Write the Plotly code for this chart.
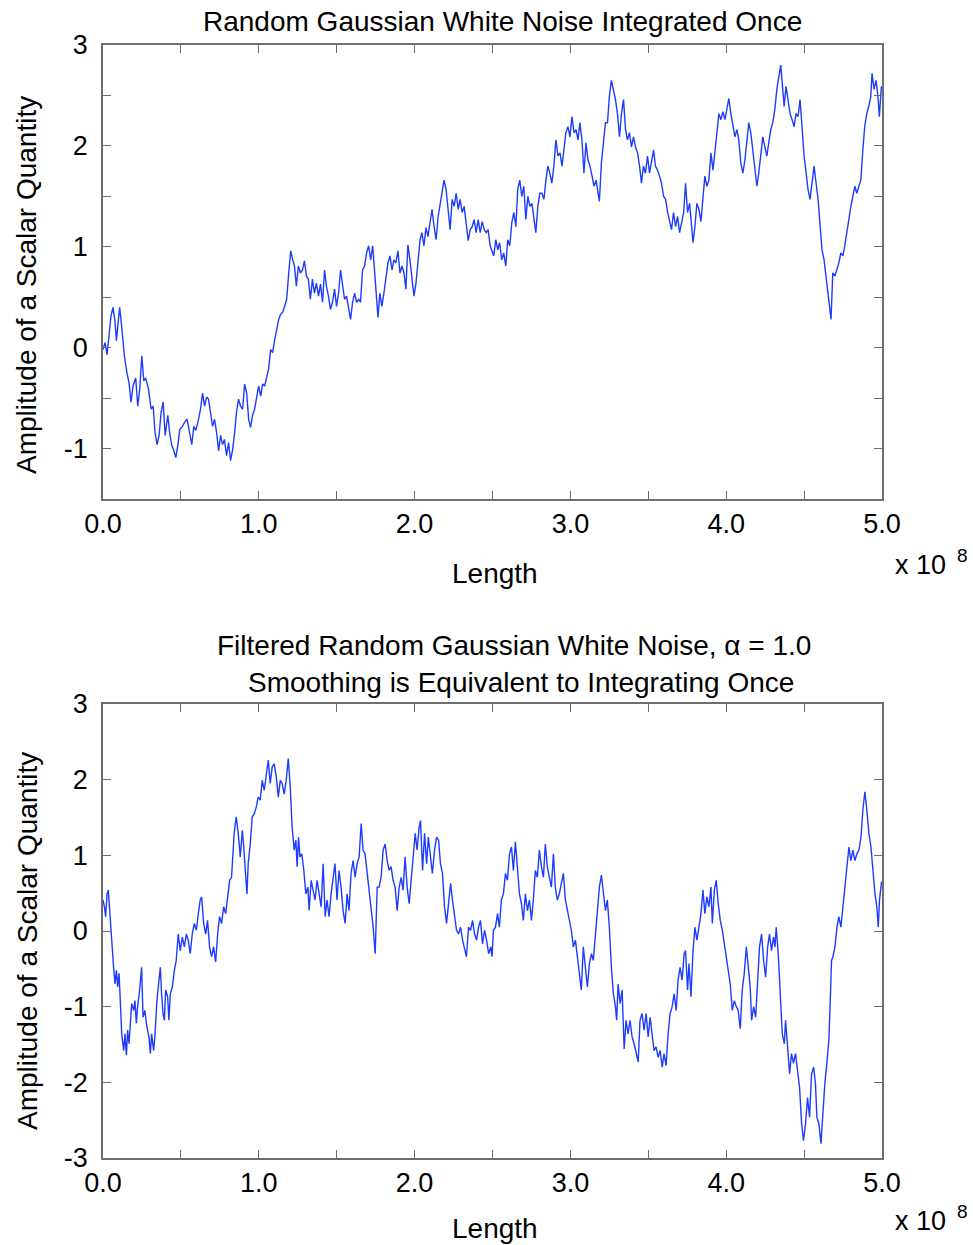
import plotly.graph_objects as go

# ---------------- data (x in units of 1e8) ----------------
top_x = [
    0.000, 0.013, 0.026, 0.039, 0.051, 0.064, 0.077, 0.086, 0.094, 0.107, 0.120, 0.137, 0.154, 0.167, 0.180, 0.193,
    0.210, 0.223, 0.236, 0.249, 0.262, 0.274, 0.292, 0.309, 0.322, 0.334, 0.347, 0.360, 0.373, 0.386, 0.399, 0.416,
    0.429, 0.442, 0.454, 0.467, 0.480, 0.493, 0.510, 0.523, 0.540, 0.553, 0.570, 0.583, 0.596, 0.613, 0.626, 0.639,
    0.652, 0.665, 0.677, 0.690, 0.703, 0.716, 0.729, 0.742, 0.755, 0.767, 0.780, 0.793, 0.806, 0.819, 0.832, 0.845,
    0.857, 0.870, 0.883, 0.896, 0.909, 0.922, 0.935, 0.947, 0.960, 0.973, 0.986, 0.999, 1.012, 1.025, 1.038, 1.050,
    1.063, 1.076, 1.089, 1.102, 1.115, 1.128, 1.140, 1.153, 1.166, 1.179, 1.192, 1.205, 1.218,
    1.229, 1.241, 1.254, 1.267, 1.280, 1.293, 1.306, 1.318, 1.331, 1.344, 1.357, 1.370, 1.383, 1.396, 1.409, 1.422,
    1.434, 1.447, 1.460, 1.473, 1.486, 1.499, 1.512, 1.525, 1.537, 1.550, 1.563, 1.576, 1.589, 1.602, 1.615, 1.628,
    1.641, 1.653, 1.666, 1.679, 1.692, 1.705, 1.718, 1.731, 1.744, 1.756, 1.765, 1.777, 1.790, 1.803, 1.816, 1.829,
    1.842, 1.855, 1.867, 1.880, 1.893, 1.906, 1.919, 1.932, 1.944, 1.957, 1.970, 1.983, 1.996, 2.009, 2.022, 2.035,
    2.047, 2.060, 2.073, 2.086, 2.099, 2.112, 2.125, 2.138, 2.151, 2.163, 2.176, 2.189, 2.202, 2.215, 2.228, 2.241,
    2.254, 2.267, 2.280, 2.292, 2.305, 2.318, 2.331, 2.344, 2.357, 2.370, 2.382, 2.395, 2.408, 2.421, 2.434, 2.447,
    2.460, 2.472, 2.485,
    2.495, 2.508, 2.521, 2.534, 2.546, 2.559, 2.572, 2.585, 2.598, 2.611, 2.624, 2.637, 2.650, 2.662, 2.675, 2.688,
    2.701, 2.714, 2.727, 2.740, 2.753, 2.765, 2.778, 2.791, 2.804, 2.817, 2.830, 2.843, 2.855, 2.868, 2.881, 2.894,
    2.907, 2.920, 2.933, 2.946, 2.958, 2.971, 2.984, 2.997, 3.010, 3.023, 3.036, 3.049, 3.061, 3.074, 3.087, 3.100,
    3.113, 3.126, 3.139, 3.152, 3.165, 3.178, 3.186, 3.199, 3.212, 3.225, 3.238, 3.250, 3.263, 3.276, 3.289, 3.302,
    3.315, 3.328, 3.341, 3.354, 3.366, 3.379, 3.392, 3.405, 3.418, 3.431, 3.444, 3.456, 3.469, 3.482, 3.495, 3.508,
    3.521, 3.534, 3.546, 3.559, 3.572, 3.585, 3.598, 3.611, 3.624, 3.637, 3.649, 3.662, 3.675, 3.688, 3.701, 3.714,
    3.727,
    3.739, 3.752, 3.765, 3.778, 3.787, 3.799, 3.812, 3.825, 3.838, 3.850, 3.863, 3.876, 3.889, 3.902, 3.915, 3.927,
    3.940, 3.953, 3.966, 3.979, 3.992, 4.004, 4.017, 4.030, 4.043, 4.056, 4.069, 4.081, 4.094, 4.107, 4.120, 4.133,
    4.145, 4.158, 4.171, 4.184, 4.197, 4.209, 4.222, 4.235, 4.248, 4.261, 4.273, 4.286, 4.299, 4.312, 4.325, 4.337,
    4.350, 4.363, 4.372, 4.384, 4.397, 4.410, 4.423, 4.436, 4.448, 4.461, 4.474, 4.487, 4.500, 4.513, 4.525, 4.538,
    4.551, 4.564, 4.577, 4.590, 4.603, 4.615, 4.628, 4.641, 4.654, 4.667, 4.673, 4.684, 4.697, 4.710, 4.723, 4.736,
    4.749, 4.761, 4.774, 4.787, 4.800, 4.813, 4.826, 4.838, 4.851, 4.864, 4.877, 4.889, 4.902, 4.915, 4.928, 4.936,
    4.949, 4.962, 4.974, 4.983, 4.996,
]
top_y = [
    -0.02, 0.05, -0.07, 0.15, 0.31, 0.40, 0.26, 0.07, 0.21, 0.40, 0.21, -0.08, -0.25, -0.35, -0.54, -0.38,
    -0.30, -0.58, -0.41, -0.08, -0.33, -0.30, -0.41, -0.61, -0.58, -0.84, -0.96, -0.87, -0.64, -0.54, -0.87, -0.67,
    -0.86, -0.97, -1.02, -1.09, -0.97, -0.81, -0.78, -0.74, -0.71, -0.81, -0.96, -0.78, -0.82, -0.71, -0.61, -0.45,
    -0.58, -0.49, -0.51, -0.64, -0.78, -0.71, -0.84, -1.02, -0.87, -0.96, -0.91, -1.07, -0.94, -1.12, -1.01, -0.84,
    -0.64, -0.51, -0.58, -0.61, -0.36, -0.45, -0.71, -0.79, -0.67, -0.61, -0.51, -0.38, -0.48, -0.36, -0.38, -0.28,
    -0.21, -0.02, -0.05, 0.08, 0.18, 0.28, 0.33, 0.35, 0.41, 0.48, 0.74, 0.96, 0.87,
    0.81, 0.61, 0.81, 0.74, 0.77, 0.86, 0.71, 0.68, 0.48, 0.68, 0.54, 0.64, 0.51, 0.63, 0.45, 0.77,
    0.61, 0.51, 0.38, 0.45, 0.58, 0.41, 0.54, 0.77, 0.61, 0.48, 0.51, 0.41, 0.28, 0.45, 0.54, 0.45,
    0.48, 0.45, 0.77, 0.81, 0.94, 1.01, 0.87, 1.01, 0.77, 0.51, 0.30, 0.54, 0.41, 0.54, 0.71, 0.84,
    0.91, 0.77, 0.87, 0.84, 0.96, 0.74, 0.81, 0.74, 0.58, 1.02, 0.87, 0.68, 0.51, 0.64, 0.87, 1.07,
    1.14, 1.01, 1.19, 1.10, 1.24, 1.37, 1.20, 1.07, 1.30, 1.43, 1.53, 1.66, 1.57, 1.34, 1.17, 1.47,
    1.40, 1.53, 1.37, 1.47, 1.34, 1.40, 1.20, 1.06, 1.17, 1.20, 1.27, 1.14, 1.27, 1.14, 1.25, 1.17,
    1.14, 1.17, 1.01,
    0.97, 0.91, 1.07, 0.97, 1.04, 0.87, 0.94, 0.81, 1.07, 1.01, 1.24, 1.34, 1.20, 1.57, 1.66, 1.50,
    1.60, 1.27, 1.50, 1.40, 1.43, 1.30, 1.14, 1.40, 1.53, 1.53, 1.47, 1.66, 1.80, 1.73, 1.63, 1.80,
    2.06, 1.90, 1.93, 1.80, 1.99, 2.13, 2.19, 2.09, 2.29, 2.13, 2.16, 2.06, 2.23, 2.06, 1.73, 2.03,
    1.86, 1.80, 1.70, 1.60, 1.66, 1.53, 1.45, 1.83, 2.06, 2.23, 2.23, 2.49, 2.65, 2.56, 2.46, 2.32,
    2.09, 2.32, 2.46, 2.16, 2.06, 2.13, 1.99, 2.09, 1.99, 1.93, 1.80, 1.63, 1.80, 1.73, 1.90, 1.73,
    1.86, 1.96, 1.80, 1.76, 1.70, 1.63, 1.50, 1.47, 1.34, 1.24, 1.17, 1.34, 1.20, 1.30, 1.14, 1.24,
    1.34,
    1.63, 1.34, 1.43, 1.14, 1.04, 1.20, 1.43, 1.37, 1.25, 1.47, 1.70, 1.60, 1.66, 1.93, 1.76, 1.93,
    2.16, 2.32, 2.26, 2.34, 2.26, 2.36, 2.47, 2.32, 2.19, 2.09, 2.16, 2.06, 1.83, 1.73, 1.86, 2.09,
    2.23, 2.13, 1.96, 1.83, 1.60, 1.73, 1.90, 2.09, 1.99, 1.90, 2.03, 2.16, 2.23, 2.36, 2.56, 2.69,
    2.80, 2.56, 2.39, 2.59, 2.46, 2.32, 2.26, 2.19, 2.32, 2.29, 2.46, 2.13, 1.90, 1.73, 1.57, 1.47,
    1.63, 1.80, 1.63, 1.47, 1.20, 0.97, 0.87, 0.68, 0.54, 0.35, 0.28, 0.74, 0.71, 0.77, 0.84, 0.94,
    0.91, 1.01, 1.17, 1.27, 1.40, 1.50, 1.60, 1.53, 1.60, 1.66, 1.96, 2.19, 2.32, 2.39, 2.49, 2.72,
    2.56, 2.65, 2.49, 2.29, 2.59,
]

bot_x = [
    0.000, 0.009, 0.017, 0.026, 0.034, 0.043, 0.051, 0.060, 0.068, 0.077, 0.086, 0.094, 0.103, 0.111, 0.120, 0.133,
    0.141, 0.150, 0.158, 0.167, 0.175, 0.184, 0.197, 0.205, 0.214, 0.222, 0.235, 0.248, 0.257, 0.269, 0.282, 0.295,
    0.304, 0.312, 0.325, 0.334, 0.346, 0.359, 0.368, 0.376, 0.385, 0.394, 0.402, 0.415, 0.423, 0.432, 0.445, 0.458,
    0.470, 0.483, 0.496, 0.509, 0.522, 0.535, 0.547, 0.560, 0.573, 0.586, 0.599, 0.612, 0.624, 0.633, 0.646, 0.659,
    0.671, 0.684, 0.697, 0.710, 0.723, 0.736, 0.748, 0.761, 0.774, 0.787, 0.800, 0.813, 0.825, 0.834, 0.842, 0.855,
    0.868, 0.881, 0.894, 0.902, 0.915, 0.924, 0.932, 0.945, 0.958, 0.971, 0.984, 0.996, 1.009, 1.022, 1.035, 1.048,
    1.061, 1.073, 1.086, 1.099, 1.112, 1.125, 1.138, 1.150, 1.163, 1.176, 1.189, 1.202, 1.214, 1.227,
    1.238, 1.246, 1.255, 1.264, 1.276, 1.289, 1.302, 1.315, 1.323, 1.336, 1.349, 1.361, 1.374, 1.387, 1.400, 1.413,
    1.426, 1.438, 1.451, 1.464, 1.477, 1.489, 1.502, 1.515, 1.528, 1.541, 1.554, 1.567, 1.579, 1.592, 1.605, 1.618,
    1.631, 1.644, 1.657, 1.669, 1.682, 1.695, 1.708, 1.721, 1.734, 1.747, 1.760, 1.772, 1.785, 1.798, 1.811, 1.824,
    1.836, 1.849, 1.862, 1.875, 1.888, 1.901, 1.914, 1.926, 1.939, 1.952, 1.965, 1.978, 1.991, 2.004, 2.016, 2.029,
    2.038, 2.051, 2.064, 2.077, 2.088, 2.101, 2.114, 2.128, 2.141, 2.154, 2.166, 2.179, 2.192, 2.205, 2.218, 2.231,
    2.243, 2.256, 2.269, 2.282, 2.295, 2.308, 2.320, 2.333, 2.346, 2.359, 2.372, 2.385, 2.398, 2.410, 2.423, 2.436,
    2.449, 2.462, 2.475,
    2.489, 2.497, 2.506, 2.519, 2.532, 2.544, 2.557, 2.570, 2.583, 2.596, 2.609, 2.622, 2.634, 2.647, 2.660, 2.673,
    2.686, 2.698, 2.711, 2.724, 2.737, 2.750, 2.762, 2.775, 2.788, 2.801, 2.814, 2.827, 2.839, 2.852, 2.865, 2.878,
    2.891, 2.903, 2.916, 2.929, 2.942, 2.955, 2.968, 2.981, 2.993, 3.006, 3.019, 3.032, 3.045, 3.058, 3.070, 3.083,
    3.096, 3.109, 3.122, 3.135, 3.147, 3.160, 3.173, 3.186, 3.199, 3.212, 3.225, 3.237, 3.250, 3.263, 3.276, 3.289,
    3.297, 3.306, 3.319, 3.332, 3.345, 3.357, 3.370, 3.383, 3.396, 3.409, 3.422, 3.435, 3.447, 3.460, 3.473, 3.486,
    3.499, 3.512, 3.524, 3.537, 3.550, 3.563, 3.576, 3.589, 3.601, 3.614, 3.627, 3.640, 3.653, 3.666, 3.679, 3.691,
    3.704, 3.717, 3.730,
    3.739, 3.752, 3.761, 3.774, 3.786, 3.799, 3.812, 3.825, 3.838, 3.851, 3.863, 3.876, 3.889, 3.902, 3.911, 3.924,
    3.936, 3.949, 3.962, 3.975, 3.988, 4.001, 4.014, 4.026, 4.039, 4.052, 4.065, 4.077, 4.090, 4.103, 4.116, 4.129,
    4.142, 4.154, 4.163, 4.176, 4.189, 4.201, 4.214, 4.227, 4.240, 4.253, 4.266, 4.278, 4.291, 4.304, 4.313, 4.321,
    4.334, 4.347, 4.360, 4.373, 4.381, 4.394, 4.407, 4.419, 4.432, 4.445, 4.458, 4.471, 4.484, 4.496, 4.509, 4.522,
    4.535, 4.548, 4.561, 4.573, 4.582, 4.595, 4.608, 4.620, 4.633, 4.646, 4.659, 4.668, 4.676, 4.685, 4.698, 4.711,
    4.723, 4.736, 4.749, 4.762, 4.775, 4.788, 4.800, 4.813, 4.826, 4.839, 4.852, 4.865, 4.877, 4.890, 4.903, 4.916,
    4.929, 4.942, 4.955, 4.967, 4.976, 4.984, 4.997,
]
bot_y = [
    0.41, 0.32, 0.19, 0.49, 0.54, 0.23, 0.05, -0.26, -0.48, -0.70, -0.52, -0.74, -0.56, -0.92, -1.36, -1.58,
    -1.36, -1.64, -1.31, -1.49, -1.18, -0.96, -1.05, -0.92, -1.22, -1.00, -0.78, -0.48, -1.14, -1.05, -1.27, -1.40,
    -1.62, -1.36, -1.58, -1.36, -0.92, -0.65, -0.48, -0.83, -1.09, -1.18, -0.78, -0.87, -1.18, -0.83, -0.74, -0.52,
    -0.39, -0.04, -0.26, -0.08, -0.21, -0.04, -0.12, -0.30, -0.04, 0.10, 0.01, 0.23, 0.41, 0.45, 0.10, -0.04,
    0.14, -0.21, -0.34, -0.21, -0.41, -0.04, 0.19, 0.10, 0.32, 0.23, 0.49, 0.67, 0.71, 1.07, 1.29, 1.51,
    1.29, 0.98, 1.33, 1.15, 0.80, 0.49, 0.89, 1.15, 1.51, 1.55, 1.64, 1.77, 1.73, 1.99, 1.86, 2.08,
    2.26, 1.95, 2.17, 2.21, 2.04, 1.77, 1.99, 1.95, 1.81, 1.99, 2.28, 1.90, 1.37, 1.07,
    1.20, 0.85, 1.24, 0.98, 1.02, 0.80, 0.49, 0.58, 0.27, 0.67, 0.54, 0.41, 0.67, 0.49, 0.32, 0.89,
    0.19, 0.41, 0.19, 0.49, 0.67, 0.89, 0.41, 0.80, 0.58, 0.27, 0.10, 0.49, 0.27, 0.76, 0.93, 0.71,
    0.89, 0.98, 1.42, 1.07, 1.02, 0.76, 0.54, 0.32, 0.05, -0.30, 0.58, 0.58, 0.71, 1.07, 1.15, 0.93,
    0.80, 0.85, 0.67, 0.58, 0.27, 0.58, 0.71, 0.54, 0.98, 0.58, 0.36, 0.67, 1.02, 1.29, 1.07, 1.37,
    1.46, 0.80, 1.29, 0.89, 1.24, 1.02, 0.76, 1.07, 1.24, 1.20, 0.89, 0.76, 0.32, 0.10, 0.41, 0.63,
    0.41, 0.23, 0.01, -0.04, 0.05, -0.12, -0.21, -0.34, 0.05, 0.01, 0.14, -0.04, -0.12, 0.05, 0.14, -0.17,
    0.01, -0.12, -0.30,
    -0.21, -0.34, 0.01, 0.05, 0.23, 0.05, 0.41, 0.49, 0.76, 0.67, 1.02, 1.11, 0.80, 1.18, 0.76, 0.49,
    0.36, 0.14, 0.49, 0.27, 0.41, 0.14, 0.41, 0.80, 0.71, 1.07, 0.85, 0.71, 1.15, 0.85, 0.71, 0.58,
    1.02, 0.58, 0.41, 0.49, 0.63, 0.76, 0.41, 0.27, 0.19, 0.01, -0.21, -0.12, -0.34, -0.56, -0.78, -0.21,
    -0.48, -0.74, -0.43, -0.30, -0.39, -0.04, 0.32, 0.58, 0.74, 0.49, 0.27, 0.41, 0.05, -0.48, -0.83, -1.00,
    -1.18, -0.70, -0.96, -0.78, -1.56, -1.18, -1.36, -1.18, -1.40, -1.49, -1.62, -1.73, -1.18, -1.09, -1.31, -1.09,
    -1.40, -1.14, -1.36, -1.58, -1.53, -1.67, -1.58, -1.80, -1.62, -1.78, -1.36, -1.09, -1.00, -0.83, -1.05, -0.65,
    -0.48, -0.65, -0.30,
    -0.26, -0.78, -0.43, -0.87, -0.30, 0.05, -0.12, 0.05, 0.23, 0.54, 0.23, 0.45, 0.32, 0.58, 0.10, 0.54,
    0.67, 0.36, 0.14, 0.01, -0.17, -0.34, -0.56, -0.70, -1.05, -0.92, -1.00, -1.05, -1.29, -0.78, -0.56, -0.21,
    -0.48, -0.74, -1.18, -1.00, -1.14, -0.65, -0.21, -0.04, -0.39, -0.61, -0.21, -0.04, -0.26, -0.08, -0.21, 0.05,
    -0.30, -0.83, -1.36, -1.49, -1.18, -1.53, -1.89, -1.62, -1.75, -1.62, -1.89, -2.07, -2.55, -2.77, -2.55, -2.20,
    -2.46, -1.89, -1.80, -2.02, -2.46, -2.55, -2.81, -2.41, -2.02, -1.75, -1.44, -0.92, -0.39, -0.34, -0.21, 0.05,
    0.19, 0.05, 0.36, 0.58, 0.85, 1.11, 0.93, 1.07, 0.93, 1.02, 1.07, 1.24, 1.59, 1.84, 1.59, 1.29,
    1.11, 0.76, 0.49, 0.32, 0.05, 0.41, 0.65,
]

x_ticks = [0, 0.5, 1, 1.5, 2, 2.5, 3, 3.5, 4, 4.5, 5]
x_labels = ["0.0", "", "1.0", "", "2.0", "", "3.0", "", "4.0", "", "5.0"]
top_y_ticks = [-1.5, -1, -0.5, 0, 0.5, 1, 1.5, 2, 2.5, 3]
top_y_labels = ["", "-1", "", "0", "", "1", "", "2", "", "3"]
bot_y_ticks = [-3, -2, -1, 0, 1, 2, 3]
bot_y_labels = ["-3", "-2", "-1", "0", "1", "2", "3"]

top_title = "Random Gaussian White Noise Integrated Once"
bot_title_1 = "Filtered Random Gaussian White Noise, \u03b1 = 1.0"
bot_title_2 = "Smoothing is Equivalent to Integrating Once"
x_title = "Length"
y_title = "Amplitude of a Scalar Quantity"

# ---------------- figure ----------------
W, H = 973, 1245
FONT = "Liberation Sans, Arial, Helvetica, sans-serif"
LINE_COLOR = "#1e3cff"
FRAME = "#6e6e6e"
TEXT_SIZE = 28
TICK_SIZE = 27


def px(x):
    return x / W


def py(y):
    return 1 - y / H


fig = go.Figure()
fig.add_trace(go.Scatter(x=top_x, y=top_y, mode="lines", xaxis="x", yaxis="y",
                         line=dict(color=LINE_COLOR, width=1.4), hoverinfo="skip"))
fig.add_trace(go.Scatter(x=bot_x, y=bot_y, mode="lines", xaxis="x2", yaxis="y2",
                         line=dict(color=LINE_COLOR, width=1.4), hoverinfo="skip"))

axis_common = dict(
    showline=True, linecolor=FRAME, linewidth=1.5, mirror="ticks",
    ticks="inside", ticklen=8, tickwidth=1.3, tickcolor=FRAME,
    showgrid=False, zeroline=False, fixedrange=True, automargin=False,
    tickfont=dict(family=FONT, size=TICK_SIZE, color="black"),
)

fig.update_layout(
    width=W, height=H,
    margin=dict(l=0, r=0, t=0, b=0),
    paper_bgcolor="white", plot_bgcolor="white",
    showlegend=False,
    xaxis=dict(domain=[px(103), px(882)], anchor="y", range=[0, 5],
               tickmode="array", tickvals=x_ticks, ticktext=x_labels,
               ticklabelstandoff=0, **axis_common),
    yaxis=dict(domain=[py(499), py(45)], anchor="x", range=[-1.5, 3],
               tickmode="array", tickvals=top_y_ticks, ticktext=top_y_labels,
               ticklabelstandoff=8, **axis_common),
    xaxis2=dict(domain=[px(103), px(882)], anchor="y2", range=[0, 5],
                tickmode="array", tickvals=x_ticks, ticktext=x_labels,
                ticklabelstandoff=0, **axis_common),
    yaxis2=dict(domain=[py(1158), py(704)], anchor="x2", range=[-3, 3],
                tickmode="array", tickvals=bot_y_ticks, ticktext=bot_y_labels,
                ticklabelstandoff=8, **axis_common),
)

def note(text, x, y, size=TEXT_SIZE, angle=0):
    fig.add_annotation(text=text, x=px(x), y=py(y), xref="paper", yref="paper",
                       xanchor="center", yanchor="middle", showarrow=False,
                       textangle=angle, font=dict(family=FONT, size=size, color="black"))

note(top_title, 502, 22)
note(x_title, 495, 573)
note("x 10", 920, 565, size=27)
note("8", 962, 555, size=19)
note(y_title, 27, 285, angle=-90)

note(bot_title_1, 514, 645)
note(bot_title_2, 521, 682)
note(x_title, 495, 1228)
note("x 10", 920, 1221, size=27)
note("8", 962, 1211, size=19)
note(y_title, 27, 941, angle=-90)

fig.write_html("out.html")
